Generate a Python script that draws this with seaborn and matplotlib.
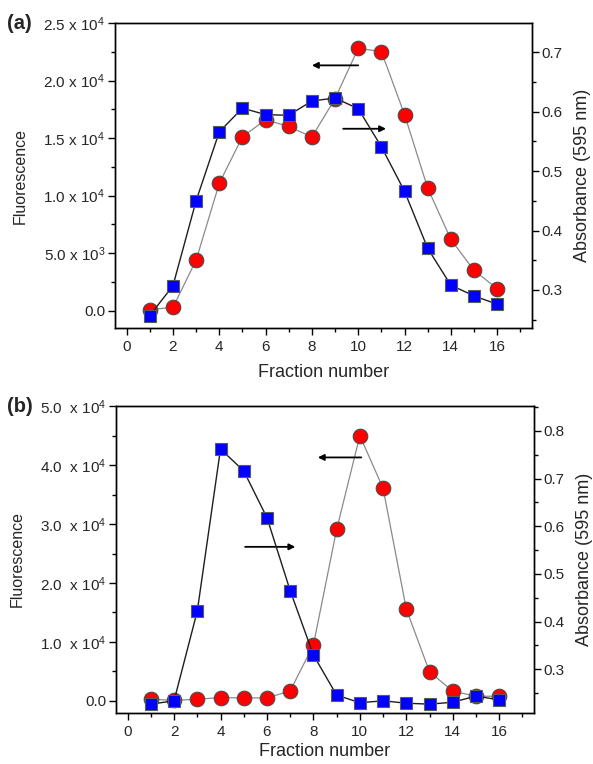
import numpy as np
import pandas as pd
import matplotlib
matplotlib.use("Agg")
import matplotlib.pyplot as plt
from matplotlib.ticker import FuncFormatter, MultipleLocator
import seaborn as sns

# Fraction numbers shared by both elutions
fractions = list(range(1, 17))

# (a) fluorescence (left axis) and absorbance at 595 nm (right axis)
fluor_a = [100, 290, 4400, 11070, 15120, 16600, 16020, 15100,
           18440, 22810, 22530, 17050, 10660, 6200, 3500, 1920]
abs_a = [0.257, 0.307, 0.450, 0.566, 0.606, 0.595, 0.594, 0.618,
         0.623, 0.605, 0.541, 0.466, 0.370, 0.308, 0.290, 0.276]

# (b) fluorescence (left axis) and absorbance at 595 nm (right axis)
fluor_b = [290, 100, 290, 580, 510, 510, 1700, 9490,
           29080, 44970, 36060, 15570, 4940, 1650, 800, 800]
abs_b = [0.227, 0.234, 0.422, 0.762, 0.716, 0.618, 0.465, 0.330,
         0.246, 0.230, 0.234, 0.229, 0.227, 0.231, 0.244, 0.236]

panel_labels = ["(a)", "(b)"]
xlabel = "Fraction number"
ylabel_left = "Fluorescence"
ylabel_right = "Absorbance (595 nm)"

sns.set_style("ticks")
plt.rcParams["font.family"] = ["Liberation Sans", "DejaVu Sans"]
plt.rcParams["mathtext.fontset"] = "custom"
plt.rcParams["mathtext.rm"] = "Liberation Sans"
plt.rcParams["mathtext.it"] = "Liberation Sans:italic"
plt.rcParams["mathtext.bf"] = "Liberation Sans:bold"

TICK_FS = 11


def sci_fmt(sep):
    def f(v, pos):
        if abs(v) < 1e-9:
            return "0.0"
        exp = int(np.floor(np.log10(abs(v))))
        mant = v / 10 ** exp
        return r"%.1f%sx 10$^{%d}$" % (mant, sep, exp)
    return f


def draw_panel(fig, rect, fluor, absb, ylim_l, ylim_r, lstep, sep,
               label, xpad, arrow_left, arrow_right):
    ax = fig.add_axes(rect)
    ax2 = ax.twinx()
    df = pd.DataFrame({"fraction": fractions, "fluor": fluor, "abs": absb})

    sns.lineplot(data=df, x="fraction", y="fluor", ax=ax, color="#8a8a8a",
                 linewidth=0.9, marker="o", markersize=10.5,
                 markerfacecolor="#ff0000", markeredgecolor="#4a4a4a",
                 markeredgewidth=0.8)
    sns.lineplot(data=df, x="fraction", y="abs", ax=ax2, color="#1e1e1e",
                 linewidth=1.0, marker="s", markersize=8.5,
                 markerfacecolor="#0000ff", markeredgecolor="#5a5a5a",
                 markeredgewidth=0.8)

    ax.set_xlim(-0.5, 17.5)
    ax.set_ylim(*ylim_l)
    ax2.set_ylim(*ylim_r)
    ax.xaxis.set_major_locator(MultipleLocator(2))
    ax.xaxis.set_minor_locator(MultipleLocator(1))
    ax.yaxis.set_major_locator(MultipleLocator(lstep))
    ax.yaxis.set_minor_locator(MultipleLocator(lstep / 2))
    ax2.yaxis.set_major_locator(MultipleLocator(0.1))
    ax2.yaxis.set_minor_locator(MultipleLocator(0.05))
    ax2.yaxis.set_major_formatter(FuncFormatter(lambda v, p: "%.1f" % v))
    ax.yaxis.set_major_formatter(FuncFormatter(sci_fmt(sep)))

    for a in (ax, ax2):
        for s in a.spines.values():
            s.set_linewidth(1.0)
            s.set_color("black")
        a.tick_params(which="major", direction="out", length=5, width=1,
                      labelsize=TICK_FS, pad=2, color="black")
        a.tick_params(which="minor", direction="out", length=3, width=1,
                      color="black")
    ax.tick_params(axis="x", pad=4)
    ax.tick_params(top=False, which="both")

    ax.set_xlabel(xlabel, fontsize=13, labelpad=xpad)
    ax.set_ylabel(ylabel_left, fontsize=11.5, labelpad=11)
    ax2.set_ylabel(ylabel_right, fontsize=13, labelpad=8)

    ax.annotate("", xy=(arrow_left[2], arrow_left[1]),
                xytext=(arrow_left[0], arrow_left[1]),
                arrowprops=dict(arrowstyle="-|>", color="black", lw=1.3,
                                mutation_scale=9, shrinkA=0, shrinkB=0))
    ax.annotate("", xy=(arrow_right[2], arrow_right[1]),
                xytext=(arrow_right[0], arrow_right[1]),
                arrowprops=dict(arrowstyle="-|>", color="black", lw=1.3,
                                mutation_scale=9, shrinkA=0, shrinkB=0))

    fig.text(0.012, rect[1] + rect[3], label, fontsize=14.5,
             fontweight="bold", ha="left", va="center")
    return ax, ax2


fig = plt.figure(figsize=(5.93, 7.64), dpi=100)

draw_panel(fig, [0.194, 0.5707, 0.703, 0.399], fluor_a, abs_a,
           (-1500, 25000), (0.236, 0.749), 5000, " ", panel_labels[0], 7,
           arrow_left=(10.0, 21330, 8.0), arrow_right=(9.35, 15820, 11.2))
draw_panel(fig, [0.1956, 0.0671, 0.705, 0.4014], fluor_b, abs_b,
           (-2000, 50000), (0.209, 0.852), 10000, "  ", panel_labels[1], 3,
           arrow_left=(10.06, 41290, 8.19), arrow_right=(5.06, 26130, 7.22))

fig.savefig("out.png", dpi=100)
